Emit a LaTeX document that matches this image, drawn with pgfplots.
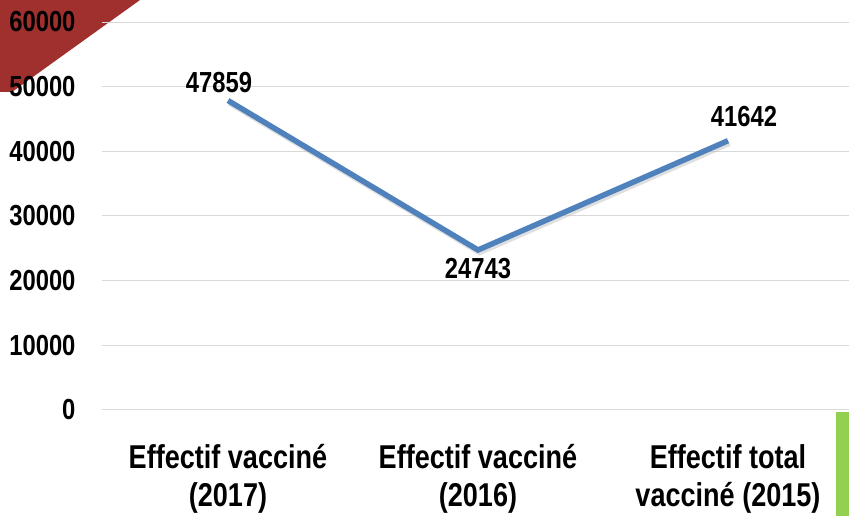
\documentclass[border=0pt]{standalone}
\usepackage{fontspec}
\setmainfont{Liberation Sans}[FakeStretch=0.82]
\usepackage{pgfplots}
\pgfplotsset{compat=1.18}
\definecolor{lineblue}{HTML}{4F81BD}
\definecolor{decored}{HTML}{A0302E}
\definecolor{decogreen}{HTML}{92D050}
\definecolor{gridgray}{HTML}{D9D9D9}
\begin{document}
\begin{tikzpicture}
\useasboundingbox (0,0) rectangle (849pt,516pt);
\fill[decored] (0,516pt) -- (140pt,516pt) -- (12pt,424pt) -- (0,424pt) -- cycle;
\fill[decogreen] (836pt,0) rectangle (849pt,104pt);
\begin{axis}[
  at={(102pt,106pt)}, anchor=south west,
  scale only axis, width=747pt, height=388pt,
  xmin=-0.504, xmax=2.484, ymin=0, ymax=60000,
  ytick={0,10000,...,60000},
  xtick={0,1,2},
  xticklabels={{Effectif vacciné\\(2017)},{Effectif vacciné\\(2016)},{Effectif total\\vacciné (2015)}},
  scaled y ticks=false,
  /pgf/number format/.cd, 1000 sep={}, assume math mode=true, /pgfplots/.cd,
  ymajorgrids, grid style={draw=gridgray, line width=1pt},
  axis line style={draw=none},
  major tick length=0pt,
  yticklabel style={font=\bfseries\fontsize{29}{34}\selectfont, text=black, xshift=-23pt},
  xticklabel style={font=\bfseries\fontsize{33}{38}\selectfont, text=black, align=center, yshift=-31pt},
  clip=false,
]
\addplot[draw=black!25, line width=5.5pt, opacity=0.5, shift={(1.5pt,-2.5pt)}] coordinates {(0,47859) (1,24743) (2,41642)};
\addplot[draw=lineblue, line width=5.5pt] coordinates {(0,47859) (1,24743) (2,41642)};
\addplot[draw=none, mark=none, nodes near coords, nodes near coords align={above},
  every node near coord/.append style={font=\bfseries\fontsize{29}{34}\selectfont, xshift=-9pt, yshift=4pt}]
  coordinates {(0,47859)};
\addplot[draw=none, mark=none, nodes near coords, nodes near coords align={below},
  every node near coord/.append style={font=\bfseries\fontsize{29}{34}\selectfont, yshift=-5pt}]
  coordinates {(1,24743)};
\addplot[draw=none, mark=none, nodes near coords, nodes near coords align={above},
  every node near coord/.append style={font=\bfseries\fontsize{29}{34}\selectfont, xshift=16pt, yshift=10pt}]
  coordinates {(2,41642)};
\end{axis}
\end{tikzpicture}
\end{document}
